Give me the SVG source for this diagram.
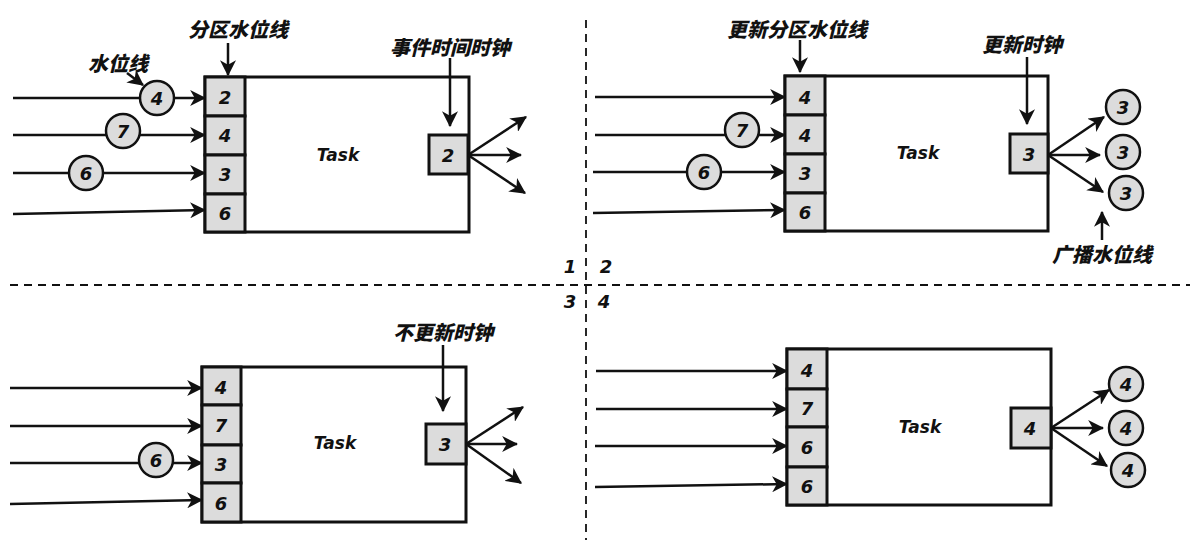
<svg xmlns="http://www.w3.org/2000/svg" width="1197" height="548" viewBox="0 0 1197 548">
<defs>
<marker id="ah" viewBox="0 0 14 14" refX="13" refY="7" markerWidth="16" markerHeight="16" markerUnits="userSpaceOnUse" orient="auto">
<path d="M0,0 L14,7 L0,14 L4,7 z" fill="#111"/>
</marker>
<style>
.box{fill:#fff;stroke:#111;stroke-width:3}
.cell{fill:#dcdcdc;stroke:#111;stroke-width:3}
.ar{stroke:#111;stroke-width:2.5;fill:none;marker-end:url(#ah)}
.dash{stroke:#111;stroke-width:1.8;stroke-dasharray:8 6;fill:none}
.circ{fill:#dcdcdc;stroke:#111;stroke-width:2.5}
.num{font-family:"DejaVu Sans","Noto Sans",sans-serif;font-size:18px;font-weight:bold;font-style:italic;fill:#111;text-anchor:middle;dominant-baseline:central}
.task{font-family:"DejaVu Sans","Noto Sans",sans-serif;font-size:17px;font-weight:bold;font-style:italic;fill:#111;text-anchor:middle;dominant-baseline:central}
.lab{font-family:"Noto Sans CJK SC","Noto Sans",sans-serif;font-size:20px;font-weight:900;font-style:italic;fill:#111;text-anchor:middle;dominant-baseline:central}
</style>
</defs>
<g id="dividers">
<line class="dash" x1="586" y1="20" x2="586" y2="540"/>
<line class="dash" x1="10" y1="285" x2="1190" y2="285"/>
<text class="num" x="570" y="266">1</text>
<text class="num" x="606" y="266">2</text>
<text class="num" x="570" y="301">3</text>
<text class="num" x="604" y="301">4</text>
</g>
<g id="panel1">
<rect class="box" x="205" y="77" width="264" height="155"/>
<rect class="cell" x="205" y="77" width="40" height="39"/>
<rect class="cell" x="205" y="116" width="40" height="39"/>
<rect class="cell" x="205" y="155" width="40" height="39"/>
<rect class="cell" x="205" y="194" width="40" height="38"/>
<text class="num" x="225" y="97">2</text>
<text class="num" x="225" y="135">4</text>
<text class="num" x="225" y="174">3</text>
<text class="num" x="225" y="213">6</text>
<text class="task" x="338" y="155">Task</text>
<rect class="cell" x="429" y="135" width="39" height="39"/>
<text class="num" x="448" y="155">2</text>
<text class="lab" x="238" y="28">分区水位线</text>
<text class="lab" x="118" y="62">水位线</text>
<text class="lab" x="450" y="46">事件时间时钟</text>
</g>
<g id="panel2">
<rect class="box" x="785" y="76" width="263" height="155"/>
<rect class="cell" x="785" y="76" width="40" height="39"/>
<rect class="cell" x="785" y="115" width="40" height="39"/>
<rect class="cell" x="785" y="154" width="40" height="39"/>
<rect class="cell" x="785" y="193" width="40" height="38"/>
<text class="num" x="805" y="97">4</text>
<text class="num" x="805" y="135">4</text>
<text class="num" x="805" y="173">3</text>
<text class="num" x="805" y="212">6</text>
<text class="task" x="918" y="153">Task</text>
<rect class="cell" x="1010" y="134" width="38" height="39"/>
<text class="num" x="1029" y="154">3</text>
<text class="lab" x="797" y="28">更新分区水位线</text>
<text class="lab" x="1022" y="43">更新时钟</text>
<text class="lab" x="1102" y="253">广播水位线</text>
</g>
<g id="panel3">
<rect class="box" x="202" y="367" width="264" height="155"/>
<rect class="cell" x="202" y="367" width="39" height="38"/>
<rect class="cell" x="202" y="405" width="39" height="40"/>
<rect class="cell" x="202" y="445" width="39" height="38"/>
<rect class="cell" x="202" y="483" width="39" height="39"/>
<text class="num" x="221" y="387">4</text>
<text class="num" x="221" y="425">7</text>
<text class="num" x="221" y="464">3</text>
<text class="num" x="221" y="503">6</text>
<text class="task" x="335" y="443">Task</text>
<rect class="cell" x="426" y="424" width="40" height="40"/>
<text class="num" x="445" y="444">3</text>
<text class="lab" x="443" y="331">不更新时钟</text>
</g>
<g id="panel4">
<rect class="box" x="787" y="349" width="264" height="156"/>
<rect class="cell" x="787" y="349" width="40" height="40"/>
<rect class="cell" x="787" y="389" width="40" height="38"/>
<rect class="cell" x="787" y="427" width="40" height="40"/>
<rect class="cell" x="787" y="467" width="40" height="38"/>
<text class="num" x="807" y="370">4</text>
<text class="num" x="807" y="408">7</text>
<text class="num" x="807" y="447">6</text>
<text class="num" x="807" y="486">6</text>
<text class="task" x="920" y="427">Task</text>
<rect class="cell" x="1011" y="408" width="40" height="40"/>
<text class="num" x="1030" y="428">4</text>
</g>
<g id="connectors">
<line class="ar" x1="13" y1="98" x2="205" y2="98"/>
<line class="ar" x1="13" y1="135" x2="205" y2="135"/>
<line class="ar" x1="13" y1="173" x2="205" y2="173"/>
<line class="ar" x1="13" y1="214" x2="205" y2="210"/>
<line class="ar" x1="228" y1="43" x2="228" y2="75"/>
<line class="ar" x1="127" y1="73" x2="143" y2="85"/>
<line class="ar" x1="450" y1="58" x2="450" y2="126"/>
<line class="ar" x1="468" y1="155" x2="526" y2="117"/>
<line class="ar" x1="468" y1="155" x2="521" y2="155"/>
<line class="ar" x1="468" y1="155" x2="525" y2="193"/>
<line class="ar" x1="595" y1="97" x2="785" y2="97"/>
<line class="ar" x1="595" y1="135" x2="785" y2="135"/>
<line class="ar" x1="593" y1="172" x2="785" y2="172"/>
<line class="ar" x1="593" y1="213" x2="785" y2="210"/>
<line class="ar" x1="800" y1="40" x2="800" y2="72"/>
<line class="ar" x1="1027" y1="57" x2="1027" y2="124"/>
<line class="ar" x1="1048" y1="155" x2="1104" y2="117"/>
<line class="ar" x1="1048" y1="155" x2="1100" y2="155"/>
<line class="ar" x1="1048" y1="155" x2="1103" y2="192"/>
<line class="ar" x1="1102" y1="240" x2="1102" y2="212"/>
<line class="ar" x1="10" y1="388" x2="202" y2="388"/>
<line class="ar" x1="10" y1="426" x2="202" y2="426"/>
<line class="ar" x1="10" y1="463" x2="202" y2="463"/>
<line class="ar" x1="10" y1="504" x2="202" y2="500"/>
<line class="ar" x1="443" y1="345" x2="443" y2="411"/>
<line class="ar" x1="466" y1="444" x2="523" y2="407"/>
<line class="ar" x1="466" y1="444" x2="517" y2="444"/>
<line class="ar" x1="466" y1="444" x2="521" y2="483"/>
<line class="ar" x1="596" y1="371" x2="787" y2="371"/>
<line class="ar" x1="596" y1="409" x2="787" y2="409"/>
<line class="ar" x1="595" y1="446" x2="787" y2="446"/>
<line class="ar" x1="595" y1="487" x2="787" y2="484"/>
<line class="ar" x1="1051" y1="428" x2="1109" y2="390"/>
<line class="ar" x1="1051" y1="428" x2="1103" y2="428"/>
<line class="ar" x1="1051" y1="428" x2="1107" y2="466"/>
</g>
<g id="watermarks">
<circle class="circ" cx="157" cy="98" r="17"/>
<text class="num" x="157" y="98">4</text>
<circle class="circ" cx="123" cy="131" r="17"/>
<text class="num" x="123" y="131">7</text>
<circle class="circ" cx="86" cy="173" r="17"/>
<text class="num" x="86" y="173">6</text>
<circle class="circ" cx="742" cy="130" r="17"/>
<text class="num" x="742" y="130">7</text>
<circle class="circ" cx="704" cy="172" r="17"/>
<text class="num" x="704" y="172">6</text>
<circle class="circ" cx="1123" cy="107" r="17"/>
<text class="num" x="1123" y="107">3</text>
<circle class="circ" cx="1123" cy="152" r="17"/>
<text class="num" x="1123" y="152">3</text>
<circle class="circ" cx="1126" cy="193" r="17"/>
<text class="num" x="1126" y="193">3</text>
<circle class="circ" cx="156" cy="460" r="17"/>
<text class="num" x="156" y="460">6</text>
<circle class="circ" cx="1126" cy="384" r="17"/>
<text class="num" x="1126" y="384">4</text>
<circle class="circ" cx="1126" cy="428" r="17"/>
<text class="num" x="1126" y="428">4</text>
<circle class="circ" cx="1128" cy="470" r="17"/>
<text class="num" x="1128" y="470">4</text>
</g>
</svg>
